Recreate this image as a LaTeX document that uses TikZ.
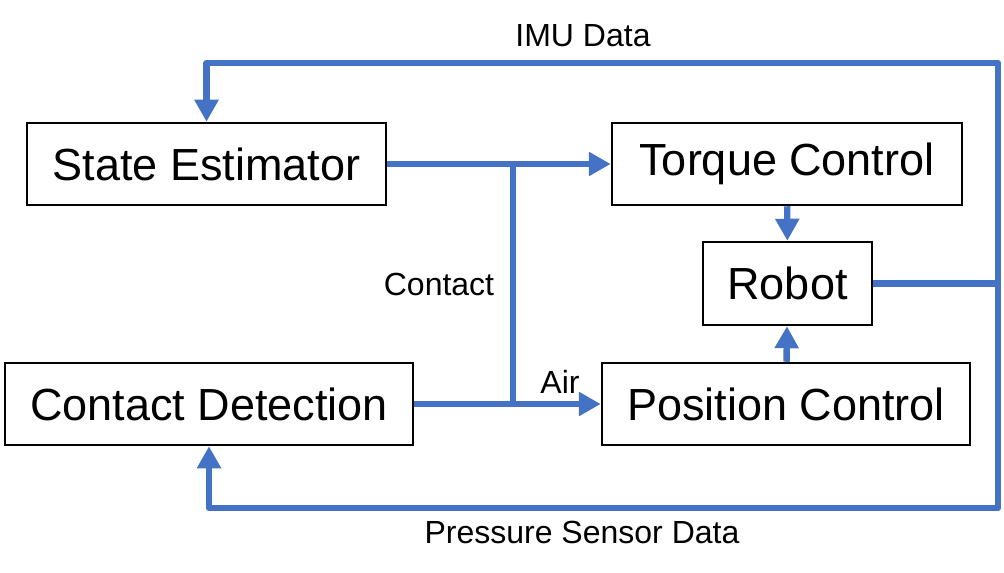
\documentclass[tikz,border=0pt]{standalone}
\usepackage{fontspec}
\setmainfont{Liberation Sans}
\usepackage{tikz}
\usetikzlibrary{positioning,arrows.meta}
\definecolor{flowblue}{HTML}{4472C4}

\begin{document}
\begin{tikzpicture}[x=0.5pt,y=-0.5pt,>={Triangle[length=11pt,width=11.5pt]},
  blk/.style={draw,line width=1.25pt,inner sep=0pt,font=\fontsize{22.5}{27}\selectfont},
  lbl/.style={inner sep=0pt,font=\fontsize{16}{19}\selectfont},
  flow/.style={draw=flowblue,line width=3.2pt,line join=round,color=flowblue}]
  \useasboundingbox (0,0) rectangle (1004,572);

  \node[blk,minimum width=179.5pt,minimum height=41pt] (est) at (206.5,164) {State Estimator};
  \node[blk,minimum width=175pt,minimum height=41pt] (torque) at (787,164) {Torque Control};
  \node[blk,minimum width=84.5pt,minimum height=41.5pt] (robot) at (787.5,283.5) {Robot};
  \node[blk,minimum width=184pt,minimum height=41pt] (pos) at (786,404) {Position Control};
  \node[blk,minimum width=204pt,minimum height=41pt] (det) at (209,404) {Contact Detection};

  \coordinate (jtop) at (513,164);
  \coordinate (jbot) at (513,404);
  \coordinate (ne) at (998,63);
  \coordinate (se) at (998,508);

  \draw[flow,->] (est) -- (torque);
  \draw[flow,->] (det) -- (pos);
  \draw[flow] (jtop) -- (jbot);
  \draw[flow,->] (torque) -- (robot);
  \draw[flow,->] (pos) -- (robot);
  \draw[flow,->] (robot.east) -| (ne) -| (est.north);
  \draw[flow,->] (robot.east) -| (se) -| (det.south);

  \node[lbl] (imu) at (583,36) {IMU Data};
  \node[lbl] (press) at (582,532) {Pressure Sensor Data};
  \node[lbl] (contact) at (439,284) {Contact};
  \node[lbl] (air) at (560,382) {Air};
\end{tikzpicture}
\end{document}
